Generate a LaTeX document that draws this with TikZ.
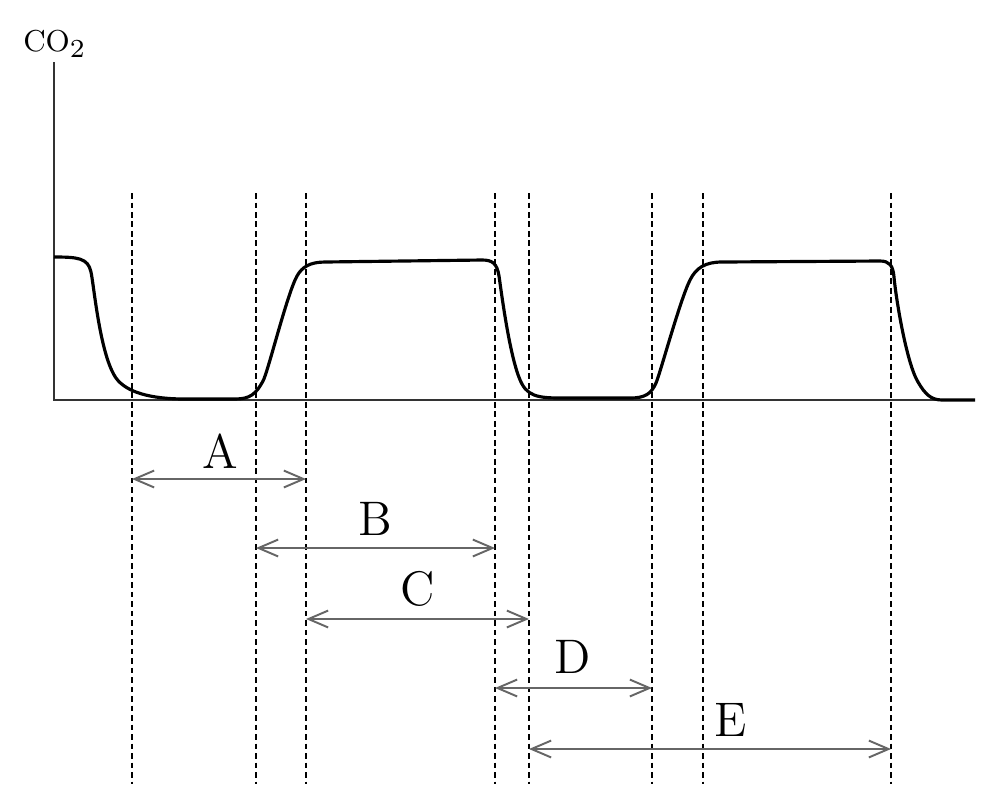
\documentclass[tikz,border=0pt]{standalone}
\usetikzlibrary{arrows.meta}
\begin{document}
\begin{tikzpicture}[x=0.01cm,y=-0.01cm,
  axisline/.style={line width=0.45pt,black!80},
  guide/.style={line width=0.5pt,black,dash pattern=on 1.6pt off 1.1pt},
  signal/.style={line width=0.9pt,black,line join=round},
  span/.style={line width=0.55pt,black!60,{Straight Barb[length=5.6pt,width=4.8pt]}-{Straight Barb[length=5.6pt,width=4.8pt]}},
  lbl/.style={font=\fontsize{13.8}{16}\selectfont,inner sep=0pt}]
\useasboundingbox (0,0) rectangle (1000,811);
% axes
\coordinate (origin) at (54,400);
\coordinate (ytop) at (54,62);
\coordinate (xend) at (975,400);
\draw[axisline] (ytop) -- (origin) -- (xend);
\node[inner sep=0pt,font=\fontsize{8.6}{10}\selectfont] (co2) at (54,44) {CO\raisebox{-0.45ex}{\fontsize{7.4}{8}\selectfont 2}};
% dashed guide lines
\foreach \n/\x in {g1/132,g2/256,g3/306,g4/495,g5/529,g6/652,g7/703,g8/891}{
  \coordinate (\n t) at (\x,193);
  \coordinate (\n b) at (\x,784);
  \draw[guide] (\n t) -- (\n b);
}
% signal curve
\draw[signal] (54,257) .. controls (78,257) and (88,258) .. (91,272)
  .. controls (94,286) and (100,355) .. (116,378)
  .. controls (126,392) and (150,399) .. (185,399)
  -- (235,399)
  .. controls (250,399) and (256,394) .. (263,381)
  .. controls (268,372) and (287,294) .. (297,276)
  .. controls (302,267) and (310,262) .. (325,262)
  -- (482,260)
  .. controls (492,260) and (497,263) .. (499,276)
  .. controls (501,289) and (510,362) .. (522,384)
  .. controls (530,399) and (545,398) .. (572,398)
  -- (630,398)
  .. controls (645,398) and (651,394) .. (656,383)
  .. controls (660,374) and (680,300) .. (690,280)
  .. controls (696,268) and (705,262) .. (722,262)
  -- (880,261)
  .. controls (889,261) and (893,265) .. (894,277)
  .. controls (895.5,295) and (906,362) .. (918,382)
  .. controls (925,394) and (931,400) .. (942,400)
  -- (xend);
% spans
\coordinate (aL) at (132,479); \coordinate (aR) at (306,479);
\coordinate (bL) at (256,548); \coordinate (bR) at (495,548);
\coordinate (cL) at (306,619); \coordinate (cR) at (529,619);
\coordinate (dL) at (495,688); \coordinate (dR) at (652,688);
\coordinate (eL) at (529,749); \coordinate (eR) at (891,749);
\draw[span] (aL) -- (aR);
\draw[span] (bL) -- (bR);
\draw[span] (cL) -- (cR);
\draw[span] (dL) -- (dR);
\draw[span] (eL) -- (eR);
\node[lbl] (A) at (220,451) {A};
\node[lbl] (B) at (375,519) {B};
\node[lbl] (C) at (418,589) {C};
\node[lbl] (D) at (573,657) {D};
\node[lbl] (E) at (731,720) {E};
\end{tikzpicture}
\end{document}
